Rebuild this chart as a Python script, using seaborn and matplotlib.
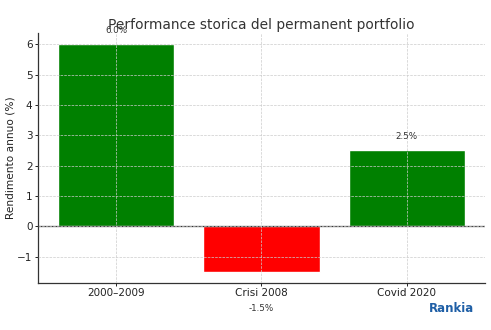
import matplotlib
matplotlib.use("Agg")
import matplotlib.pyplot as plt
import seaborn as sns
import pandas as pd

# Annual return of the permanent portfolio in three periods
periods = ["2000–2009", "Crisi 2008", "Covid 2020"]
returns = [6.0, -1.5, 2.5]
bar_colors = ["#008000", "#ff0000", "#008000"]

sns.set_theme(style="ticks")
plt.rcParams["font.family"] = ["DejaVu Sans"]

df = pd.DataFrame({"periodo": periods, "rendimento": returns})

fig = plt.figure(figsize=(4.91, 3.30), dpi=100)
ax = fig.add_axes([0.077, 0.142, 0.911, 0.758])

sns.barplot(data=df, x="periodo", y="rendimento", hue="periodo",
            palette=bar_colors, width=0.8, saturation=1, legend=False, ax=ax)
ax.set_xlim(-0.54, 2.54)
ax.set_ylim(-1.875, 6.375)

ax.axhline(0, color="#333333", linewidth=0.9)
ax.grid(True, linestyle="--", linewidth=0.5, color="#cccccc")
ax.set_axisbelow(False)

sns.despine(ax=ax)
for side in ("left", "bottom"):
    ax.spines[side].set_color("#333333")
    ax.spines[side].set_linewidth(0.9)

ax.set_xlabel("")
ax.set_ylabel("Rendimento annuo (%)", fontsize=7.6, color="#222222")
ax.yaxis.set_label_coords(-0.049, 0.5)
ax.tick_params(axis="both", labelsize=7.5, colors="#222222",
               length=2, width=0.7, pad=1.8)
ax.set_title("Performance storica del permanent portfolio",
             fontsize=9.9, color="#333333", pad=3)

# Value labels above positive bars and under the negative one
for i, v in enumerate(returns):
    if v >= 0:
        ax.text(i, v + 0.3, f"{v:.1f}%", ha="center", va="bottom",
                fontsize=6.3, color="#333333", clip_on=False)
    else:
        ax.text(i, v - 1.05, f"{v:.1f}%", ha="center", va="top",
                fontsize=6.3, color="#333333", clip_on=False)

fig.text(0.965, 0.045, "Rankia", ha="right", va="bottom",
         fontsize=8.5, fontweight="bold", color="#1f5fa6")

fig.savefig("out.png", dpi=100)
